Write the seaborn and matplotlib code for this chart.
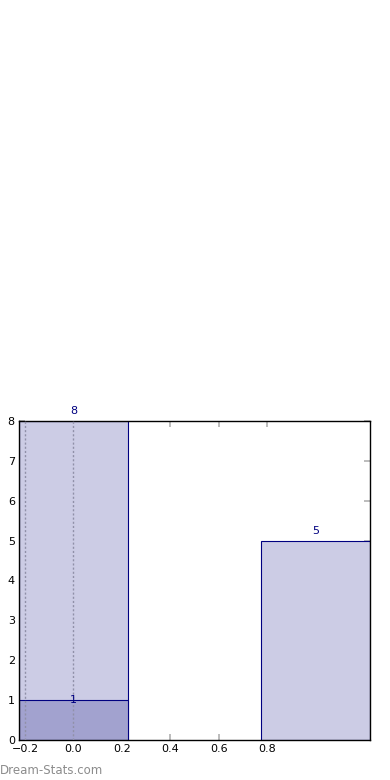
import matplotlib
matplotlib.use("Agg")
import matplotlib.pyplot as plt
import seaborn as sns
import pandas as pd

categories = ["A", "B"]
totals = [8, 5]
sub_cats = ["A"]
sub_values = [1]
xticks = [-0.2, 0.0, 0.2, 0.4, 0.6, 0.8]
yticks = [0, 1, 2, 3, 4, 5, 6, 7, 8]

sns.set_style("white")
plt.rcParams['font.family'] = ['DejaVu Sans']

fig = plt.figure(figsize=(3.9, 7.8), dpi=100)
ax = fig.add_axes([19/390, 40/780, 351/390, 319/780])

df = pd.DataFrame({"cat": categories, "val": totals})
sns.barplot(data=df, x="cat", y="val", order=categories, width=0.45,
            color="#ccccE5", saturation=1, edgecolor="#000080", linewidth=0.8, ax=ax)
df2 = pd.DataFrame({"cat": sub_cats, "val": sub_values})
sns.barplot(data=df2, x="cat", y="val", order=categories, width=0.45,
            color="#a2a2cf", saturation=1, edgecolor="#000080", linewidth=0.8, ax=ax)

for xv in [-0.2, 0.0]:
    ax.plot([xv, xv], [0, totals[0]], linestyle=(0, (1.5, 1.5)), color="#9090a8", linewidth=1.0, zorder=3)

for i, v in enumerate(totals):
    ax.text(i, v + 0.12, str(v), ha="center", va="bottom", color="#000080", fontsize=8)
for i, v in enumerate(sub_values):
    ax.text(i, v, str(v), ha="center", va="center", color="#000080", fontsize=8)

ax.set_xlim(-0.225, 1.225)
ax.set_ylim(0, 8)
ax.set_xticks(xticks)
ax.set_xticklabels([f"{t:.1f}".replace("-", "\u2212") for t in xticks])
ax.set_yticks(yticks)
ax.set_xlabel("")
ax.set_ylabel("")
ax.tick_params(axis="both", which="both", direction="in", length=4, width=1.2,
               color="#b0b0b0", labelsize=8, labelcolor="black",
               top=True, right=True, bottom=True, left=True)
ax.tick_params(axis="x", pad=3)
ax.tick_params(axis="y", pad=3)
for s in ax.spines.values():
    s.set_visible(True)
    s.set_color("black")
    s.set_linewidth(1.0)

fig.text(0.0, 10/780, "Dream-Stats.com", color="#8c8c8c", fontsize=8.5,
         ha="left", va="center")

fig.savefig("out.png", dpi=100)
